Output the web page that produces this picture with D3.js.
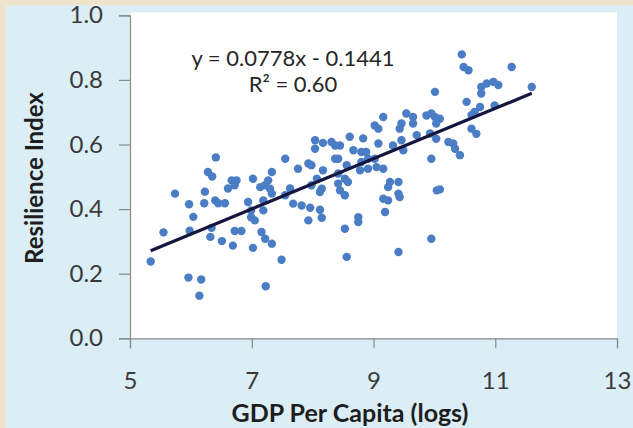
<!DOCTYPE html>
<html lang="en">
<head>
<meta charset="utf-8">
<title>Resilience vs GDP</title>
<script src="https://d3js.org/d3.v7.min.js"></script>
<style>
  body { margin: 0; padding: 0; background: #efe4cb; }
  text { font-family: Lato, "Open Sans", sans-serif; }
</style>
</head>
<body>
<div id="chart"></div>
<script>
// scatter values (GDP per capita in logs, resilience index)
var gdpLog = [5.34, 5.55, 5.96, 6.17, 6.14, 5.74, 5.97, 6.22, 6.04, 5.98, 6.32, 6.51, 6.69, 6.72, 6.83,
  6.41, 6.28, 6.35, 6.23, 6.40, 6.56, 6.67, 6.72, 6.61, 6.45, 6.34, 6.75, 7.02, 7.27, 7.22,
  7.14, 7.30, 7.33, 6.94, 7.19, 6.99, 7.19, 7.05, 6.99, 7.16, 7.22, 7.33, 7.02, 7.49, 7.23,
  7.33, 7.55, 7.63, 7.55, 7.76, 7.93, 7.98, 8.17, 8.04, 8.17, 8.31, 8.04, 8.37, 8.07, 7.98,
  8.15, 8.12, 7.68, 7.82, 7.96, 8.12, 7.93, 8.15, 8.37, 8.45, 8.61, 8.83, 9.08, 9.16, 9.02,
  9.08, 9.46, 9.43, 9.54, 9.65, 9.65, 9.87, 9.95, 10.01, 9.71, 9.93, 9.46, 9.49, 9.32, 8.67,
  8.80, 8.88, 8.91, 8.42, 9.02, 9.95, 8.56, 8.80, 8.78, 8.91, 9.05, 9.16, 8.42, 8.53, 8.58,
  8.42, 8.45, 8.53, 9.27, 9.41, 9.24, 9.41, 9.43, 10.04, 9.16, 9.24, 9.19, 8.75, 8.75, 8.53,
  9.95, 9.41, 8.56, 10.01, 10.45, 10.48, 10.56, 11.27, 10.77, 10.86, 10.97, 11.05, 10.77, 11.60,
  10.53, 10.75, 10.66, 10.61, 10.99, 10.09, 10.03, 10.61, 10.69, 10.03, 10.23, 10.31, 10.34,
  10.42, 10.09];
var resilience = [0.238, 0.328, 0.188, 0.182, 0.132, 0.448, 0.415, 0.418, 0.376, 0.333, 0.314, 0.301, 0.287, 0.332, 0.332,
  0.560, 0.515, 0.501, 0.454, 0.427, 0.418, 0.489, 0.474, 0.464, 0.418, 0.342, 0.489, 0.494, 0.489, 0.474,
  0.468, 0.463, 0.448, 0.422, 0.427, 0.396, 0.396, 0.365, 0.375, 0.329, 0.308, 0.293, 0.280, 0.243, 0.161,
  0.515, 0.556, 0.464, 0.443, 0.525, 0.541, 0.536, 0.520, 0.613, 0.605, 0.608, 0.587, 0.556, 0.494, 0.474,
  0.463, 0.453, 0.417, 0.411, 0.404, 0.398, 0.365, 0.373, 0.597, 0.597, 0.624, 0.619, 0.603, 0.685, 0.659,
  0.649, 0.665, 0.649, 0.696, 0.685, 0.665, 0.690, 0.696, 0.685, 0.629, 0.634, 0.613, 0.582, 0.597, 0.582,
  0.577, 0.577, 0.556, 0.556, 0.556, 0.556, 0.536, 0.546, 0.520, 0.525, 0.530, 0.525, 0.510, 0.494, 0.484,
  0.479, 0.458, 0.443, 0.484, 0.484, 0.468, 0.448, 0.437, 0.458, 0.432, 0.427, 0.391, 0.375, 0.360, 0.339,
  0.308, 0.267, 0.252, 0.763, 0.879, 0.840, 0.830, 0.840, 0.778, 0.789, 0.794, 0.784, 0.758, 0.778,
  0.732, 0.716, 0.701, 0.691, 0.721, 0.680, 0.665, 0.649, 0.633, 0.618, 0.608, 0.603, 0.587,
  0.567, 0.461];

// trend line y = a*x + b over the range of the data
var trendSlope = 0.0778;
var trendIntercept = -0.1441;
var trendRange = [5.34, 11.6];
var trendLabels = ["y = 0.0778x - 0.1441", "R\u00b2 = 0.60"];

var xTicks = [5, 7, 9, 11, 13];
var yTicks = [0, 0.2, 0.4, 0.6, 0.8, 1.0];
var xTitle = "GDP Per Capita (logs)";
var yTitle = "Resilience Index";

var W = 633, H = 428;
var margin = {left: 130, right: 16, top: 15, bottom: 90};

var svg = d3.select("#chart").append("svg")
    .attr("width", W)
    .attr("height", H);

// outer beige frame and light blue panel
svg.append("rect").attr("width", W).attr("height", H).attr("fill", "#efe4cb");
svg.append("rect").attr("x", 6).attr("y", 5).attr("width", W - 6).attr("height", H - 5)
    .attr("fill", "#dbedf5");

var x = d3.scaleLinear().domain([5, 13]).range([margin.left, W - margin.right]);
var y = d3.scaleLinear().domain([0, 1]).range([H - margin.bottom + 0.3, margin.top + 0.3]);

// white plot area
svg.append("rect")
    .attr("x", x(5)).attr("y", y(1) - 3)
    .attr("width", x(13) - x(5)).attr("height", y(0) - y(1) + 3)
    .attr("fill", "#ffffff");

// y axis
var yAxis = svg.append("g")
    .attr("transform", "translate(" + x(5) + ",0)")
    .call(d3.axisLeft(y).tickValues(yTicks).tickFormat(d3.format(".1f")).tickSize(11).tickPadding(16));

// x axis
var xAxis = svg.append("g")
    .attr("transform", "translate(0," + y(0) + ")")
    .call(d3.axisBottom(x).tickValues(xTicks).tickFormat(d3.format("d")).tickSize(10).tickPadding(24));

[yAxis, xAxis].forEach(function(g) {
    g.select(".domain").attr("stroke", "#8a8a8a").attr("stroke-width", 1.2);
    g.selectAll(".tick line").attr("stroke", "#8a8a8a").attr("stroke-width", 1.2);
    g.selectAll(".tick text")
        .attr("fill", "#3a3a3a")
        .style("font-size", "24px")
        .style("font-family", "Lato, 'Open Sans', sans-serif");
});

// points
var points = gdpLog.map(function(d, i) { return {x: d, y: resilience[i]}; });
svg.append("g").selectAll("circle")
    .data(points)
    .enter()
    .append("circle")
    .attr("cx", d => x(d.x))
    .attr("cy", d => y(d.y))
    .attr("r", 4.2)
    .attr("fill", "#4a7dc4");

// trend line
var line = d3.line().x(d => x(d)).y(d => y(trendSlope * d + trendIntercept));
svg.append("path")
    .datum(trendRange)
    .attr("d", line)
    .attr("fill", "none")
    .attr("stroke", "#14163f")
    .attr("stroke-width", 3.2);

// equation
svg.append("text")
    .attr("x", 293).attr("y", 66)
    .attr("text-anchor", "middle")
    .attr("fill", "#262626")
    .style("font-size", "22px")
    .text(trendLabels[0]);
svg.append("text")
    .attr("x", 293).attr("y", 92)
    .attr("text-anchor", "middle")
    .attr("fill", "#262626")
    .style("font-size", "22px")
    .text(trendLabels[1]);

// axis titles
svg.append("text")
    .attr("x", 350)
    .attr("y", 422)
    .attr("text-anchor", "middle")
    .attr("fill", "#1e1e1e")
    .style("font-size", "25px")
    .style("font-weight", "bold")
    .text(xTitle);

svg.append("text")
    .attr("transform", "translate(43,178) rotate(-90)")
    .attr("text-anchor", "middle")
    .attr("fill", "#1e1e1e")
    .style("font-size", "24px")
    .style("font-weight", "bold")
    .text(yTitle);
</script>
</body>
</html>
